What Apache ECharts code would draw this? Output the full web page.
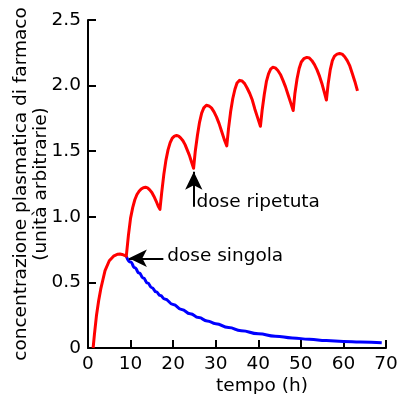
<!DOCTYPE html>
<html>
<head>
<meta charset="utf-8">
<script src="https://cdn.jsdelivr.net/npm/echarts@6/dist/echarts.min.js"></script>
<style>
  html, body { margin: 0; padding: 0; background: #fff; }
  #chart { width: 404px; height: 394px; }
</style>
</head>
<body>
<div id="chart"></div>
<script>
// Plasma concentration after a single dose and after repeated doses (arbitrary units)
const xTicks = [0, 10, 20, 30, 40, 50, 60, 70];
const yTicks = [0, 0.5, 1.0, 1.5, 2.0, 2.5];

// Repeated dosing: time (h) and concentration
const repeatedTime = [
  1.2, 1.5, 2.0, 2.5, 3.0, 3.5, 4.0, 5.0, 6.0, 7.0, 7.5, 8.0, 9.0,
  9.5, 10.0, 10.5, 11.0, 11.5, 12.0, 12.5, 13.0, 13.5, 14.0, 14.5, 15.0, 15.5, 16.0, 16.5, 16.9,
  17.3, 17.8, 18.3, 18.8, 19.3, 19.8, 20.3, 20.8, 21.3, 21.8, 22.3, 22.8, 23.3, 23.8, 24.3, 24.8,
  25.2, 25.7, 26.2, 26.7, 27.2, 27.8, 28.4, 29.0, 29.6, 30.2, 30.8, 31.4, 32.0, 32.6,
  33.0, 33.5, 34.0, 34.5, 35.0, 35.6, 36.2, 36.8, 37.4, 38.0, 38.6, 39.2, 39.8, 40.5,
  40.9, 41.4, 41.9, 42.4, 42.9, 43.4, 44.0, 44.6, 45.2, 45.8, 46.4, 47.0, 47.6, 48.2,
  48.6, 49.1, 49.6, 50.1, 50.7, 51.4, 52.0, 52.6, 53.2, 53.8, 54.4, 55.0, 55.5, 56.0,
  56.4, 56.9, 57.4, 57.9, 58.5, 59.1, 59.7, 60.3, 60.9, 61.5, 62.1, 62.7, 63.3
];
const repeatedConc = [
  0.00, 0.10, 0.25, 0.36, 0.45, 0.52, 0.59, 0.665, 0.70, 0.715, 0.716, 0.713, 0.70,
  0.86, 0.99, 1.07, 1.13, 1.17, 1.195, 1.212, 1.222, 1.225, 1.22, 1.205, 1.185, 1.155, 1.12, 1.08, 1.057,
  1.18, 1.32, 1.43, 1.51, 1.565, 1.60, 1.615, 1.62, 1.615, 1.60, 1.58, 1.55, 1.51, 1.47, 1.42, 1.37,
  1.50, 1.62, 1.72, 1.79, 1.83, 1.85, 1.845, 1.83, 1.80, 1.76, 1.71, 1.65, 1.59, 1.54,
  1.67, 1.80, 1.90, 1.97, 2.02, 2.04, 2.035, 2.015, 1.98, 1.94, 1.89, 1.82, 1.76, 1.69,
  1.81, 1.93, 2.03, 2.09, 2.125, 2.14, 2.135, 2.115, 2.085, 2.04, 1.99, 1.93, 1.87, 1.81,
  1.94, 2.05, 2.13, 2.18, 2.205, 2.215, 2.21, 2.19, 2.16, 2.12, 2.07, 2.01, 1.95, 1.89,
  2.01, 2.12, 2.19, 2.225, 2.24, 2.245, 2.24, 2.22, 2.19, 2.15, 2.09, 2.03, 1.96
];

// Single dose: decline after the first peak
const singleTime = [9, 10, 11, 12, 13, 14, 15, 16, 17, 18, 20, 22, 24, 26, 28, 30, 33, 36, 40, 44, 48, 52, 56, 60, 64, 69];
const singleConc = [0.70, 0.655, 0.612, 0.572, 0.533, 0.495, 0.46, 0.428, 0.40, 0.374, 0.332, 0.294, 0.261, 0.232, 0.206, 0.185, 0.156, 0.132, 0.108, 0.09, 0.077, 0.066, 0.057, 0.05, 0.045, 0.04];

const FONT = 'DejaVu Sans';
const FS_TICK = 18.5;
const FS_TEXT = 18.5;

const pairs = (xs, ys) => xs.map((x, i) => [x, ys[i]]);

const chart = echarts.init(document.getElementById('chart'), null, { renderer: 'canvas' });

chart.setOption({
  animation: false,
  backgroundColor: '#fff',
  grid: { left: 88, right: 18, top: 20, bottom: 46, containLabel: false, outerBoundsMode: 'none' },
  xAxis: {
    type: 'value',
    min: xTicks[0],
    max: xTicks[xTicks.length - 1],
    interval: 10,
    name: 'tempo (h)',
    nameLocation: 'middle',
    nameGap: 29,
    nameMoveOverlap: false,
    nameTextStyle: { fontFamily: FONT, fontSize: FS_TEXT, color: '#000', padding: [0, 0, 0, 50] },
    axisLine: { lineStyle: { color: '#000', width: 2 } },
    axisTick: { inside: true, length: 8, lineStyle: { color: '#000', width: 2 } },
    axisLabel: { margin: 7, fontFamily: FONT, fontSize: FS_TICK, color: '#000' },
    splitLine: { show: false }
  },
  yAxis: {
    type: 'value',
    min: yTicks[0],
    max: yTicks[yTicks.length - 1],
    interval: 0.5,
    name: 'concentrazione plasmatica di farmaco\n(unità arbitrarie)',
    nameLocation: 'middle',
    nameRotate: 90,
    nameGap: 37,
    nameMoveOverlap: false,
    nameTextStyle: { fontFamily: FONT, fontSize: FS_TEXT, color: '#000', lineHeight: 20 },
    axisLine: { lineStyle: { color: '#000', width: 2 } },
    axisTick: { inside: true, length: 8, lineStyle: { color: '#000', width: 2 } },
    axisLabel: {
      margin: 7, fontFamily: FONT, fontSize: FS_TICK, color: '#000',
      formatter: v => (v === 0 ? '0' : v.toFixed(1))
    },
    splitLine: { show: false }
  },
  series: [
    {
      name: 'dose singola',
      type: 'line',
      data: pairs(singleTime, singleConc),
      smooth: true,
      smoothMonotone: 'x',
      showSymbol: false,
      lineStyle: { color: '#0000ff', width: 3 },
      z: 2
    },
    {
      name: 'dose ripetuta',
      type: 'line',
      data: pairs(repeatedTime, repeatedConc),
      smooth: false,
      showSymbol: false,
      lineStyle: { color: '#ff0000', width: 3, join: 'round' },
      z: 3
    },
    {
      // annotation arrows and their texts
      type: 'line',
      data: [],
      silent: true,
      markLine: {
        silent: true,
        symbol: ['none', 'arrow'],
        symbolSize: [13, 18],
        label: { show: false },
        lineStyle: { color: '#000', width: 2, type: 'solid' },
        data: [
          [{ coord: [17.7, 0.684] }, { coord: [9.6, 0.684] }],
          [{ coord: [24.85, 1.077] }, { coord: [24.85, 1.344] }]
        ]
      },
      markPoint: {
        silent: true,
        symbol: 'circle',
        symbolSize: 0,
        label: {
          show: true,
          position: 'right',
          distance: 0,
          formatter: p => p.name,
          fontFamily: FONT,
          fontSize: FS_TEXT,
          color: '#000',
          opacity: 1
        },
        data: [
          { coord: [18.6, 0.70], name: 'dose singola' },
          { coord: [25.5, 1.11], name: 'dose ripetuta' }
        ]
      },
      z: 4
    }
  ]
});
</script>
</body>
</html>
